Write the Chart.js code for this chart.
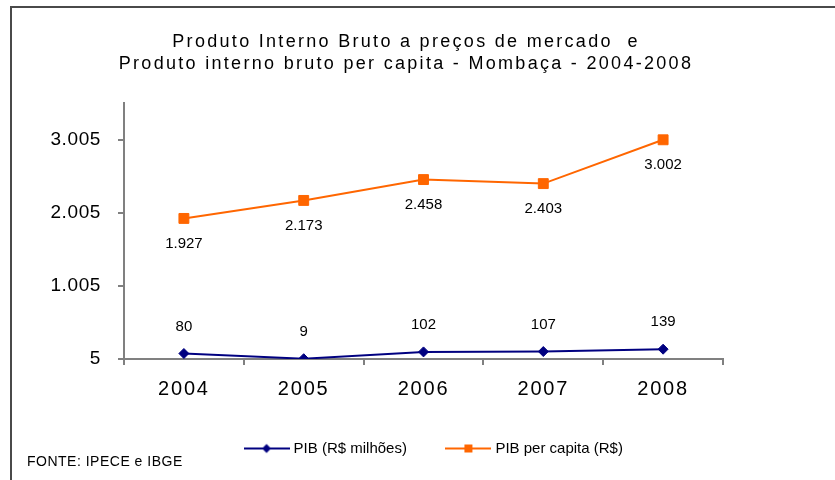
<!DOCTYPE html>
<html>
<head>
<meta charset="utf-8">
<script src="https://cdn.jsdelivr.net/npm/chart.js@4.4.1/dist/chart.umd.min.js"></script>
<style>
  html, body { margin: 0; padding: 0; background: #fff; overflow: hidden; }
  #frame {
    position: absolute; left: 10px; top: 6px;
    width: 900px; height: 520px;
    border: 2px solid #4a4a4a;
  }
  #chart { position: absolute; left: 0; top: 0; }
  #fonte {
    position: absolute; left: 27px; top: 453px;
    font: 14px "Liberation Sans", Arial, sans-serif;
    letter-spacing: 0.5px; color: #000;
  }
</style>
</head>
<body>
<div id="frame"></div>
<canvas id="chart" width="835" height="480"></canvas>
<div id="fonte">FONTE: IPECE e IBGE</div>
<script>
const years = ['2004', '2005', '2006', '2007', '2008'];
const pib = [80, 9, 102, 107, 139];                       // R$ milhões
const pibPerCapita = [1927, 2173, 2458, 2403, 3002];      // R$
const yTicks = [5, 1005, 2005, 3005];
const yMin = 5;
const yMax = 3505;

const FONT = '"Liberation Sans", Arial, sans-serif';
const NAVY = '#000080';
const ORANGE = '#FF6600';
const AXIS = '#808080';

// 1927 -> "1.927"
function fmt(v) {
    return String(v).replace(/\B(?=(\d{3})+(?!\d))/g, '.');
}

// small line + marker picture used as legend symbol
function legendIcon(color, style) {
    const c = document.createElement('canvas');
    c.width = 46;
    c.height = 12;
    const g = c.getContext('2d');
    g.strokeStyle = color;
    g.lineWidth = 2;
    g.beginPath();
    g.moveTo(0, 6);
    g.lineTo(46, 6);
    g.stroke();
    g.fillStyle = color;
    g.beginPath();
    if (style === 'rectRot') {
        g.moveTo(23, 1.5); g.lineTo(27.5, 6); g.lineTo(23, 10.5); g.lineTo(18.5, 6);
        g.closePath();
    } else {
        g.rect(19, 2, 8, 8);
    }
    g.fill();
    return c;
}

// wraps a draw method so its text gets some letter spacing (Excel-like look)
function spaced(obj, method, px) {
    if (!obj || obj['_sp_' + method]) return;
    const orig = obj[method];
    obj[method] = function (...args) {
        const ctx = this.ctx;
        ctx.save();
        ctx.letterSpacing = px + 'px';
        orig.apply(this, args);
        ctx.restore();
    };
    obj['_sp_' + method] = true;
}

const excelLook = {
    id: 'excelLook',
    afterLayout(chart) {
        // legend sits a bit right of the title centre
        chart.legend.left += 29;
        chart.legend.right += 29;
    },
    beforeDraw(chart) {
        // y labels reach past the (narrow) axis box, don't clip them
        chart.scales.y._computeLabelArea = () => undefined;
        spaced(chart.titleBlock, 'draw', 2.3);
        spaced(chart.scales.x, 'drawLabels', 1.8);
        spaced(chart.scales.y, 'drawLabels', 0.6);
    }
};

const dataLabels = {
    id: 'dataLabels',
    afterDatasetsDraw(chart) {
        const ctx = chart.ctx;
        ctx.save();
        ctx.font = '15px ' + FONT;
        ctx.fillStyle = '#000';
        ctx.textAlign = 'center';
        ctx.textBaseline = 'middle';
        chart.data.datasets.forEach((ds, i) => {
            const meta = chart.getDatasetMeta(i);
            meta.data.forEach((pt, j) => {
                ctx.fillText(fmt(ds.data[j]), pt.x, pt.y + ds.labelOffset);
            });
        });
        ctx.restore();
    }
};

new Chart(document.getElementById('chart'), {
    type: 'line',
    data: {
        labels: years,
        datasets: [
            {
                label: 'PIB (R$ milhões)',
                data: pib,
                borderColor: NAVY,
                backgroundColor: NAVY,
                borderWidth: 2,
                pointStyle: 'rectRot',
                pointRadius: 5,
                pointBorderWidth: 1,
                tension: 0,
                labelOffset: -27
            },
            {
                label: 'PIB per capita (R$)',
                data: pibPerCapita,
                borderColor: ORANGE,
                backgroundColor: ORANGE,
                borderWidth: 2,
                pointStyle: 'rect',
                pointRadius: 7,
                pointBorderWidth: 1,
                tension: 0,
                labelOffset: 25
            }
        ]
    },
    options: {
        responsive: false,
        animation: false,
        layout: { padding: { left: 89, right: 112, top: 0, bottom: 14 } },
        plugins: {
            title: {
                display: true,
                text: ['Produto Interno Bruto a preços de mercado  e',
                       'Produto interno bruto per capita - Mombaça - 2004-2008'],
                color: '#000',
                font: { family: FONT, size: 18, weight: 'normal', lineHeight: '22px' },
                padding: { top: 31, bottom: 28 }
            },
            legend: {
                position: 'bottom',
                labels: {
                    color: '#000',
                    font: { family: FONT, size: 15 },
                    padding: 42,
                    usePointStyle: true,
                    pointStyleWidth: 39,
                    generateLabels: chart => chart.data.datasets.map((ds, i) => ({
                        text: ds.label,
                        pointStyle: legendIcon(ds.borderColor, ds.pointStyle),
                        fillStyle: ds.borderColor,
                        strokeStyle: ds.borderColor,
                        lineWidth: 0,
                        fontColor: '#000',
                        hidden: !chart.isDatasetVisible(i),
                        datasetIndex: i
                    }))
                }
            },
            tooltip: { enabled: false }
        },
        scales: {
            x: {
                offset: true,
                grid: { offset: true, drawOnChartArea: false, tickLength: 6, color: AXIS, lineWidth: 2 },
                border: { color: AXIS, width: 2 },
                ticks: { color: '#000', font: { family: FONT, size: 20 }, padding: 12 },
                afterFit: s => { s.height = 40; }
            },
            y: {
                min: yMin,
                max: yMax,
                afterBuildTicks: s => { s.ticks = yTicks.map(v => ({ value: v })); },
                grid: { drawOnChartArea: false, tickLength: 6, color: AXIS, lineWidth: 2 },
                border: { color: AXIS, width: 2 },
                ticks: { color: '#000', font: { family: FONT, size: 19 }, padding: 17, callback: v => fmt(v) },
                afterFit: s => { s.width = 35; }
            }
        }
    },
    plugins: [excelLook, dataLabels]
});
</script>
</body>
</html>
